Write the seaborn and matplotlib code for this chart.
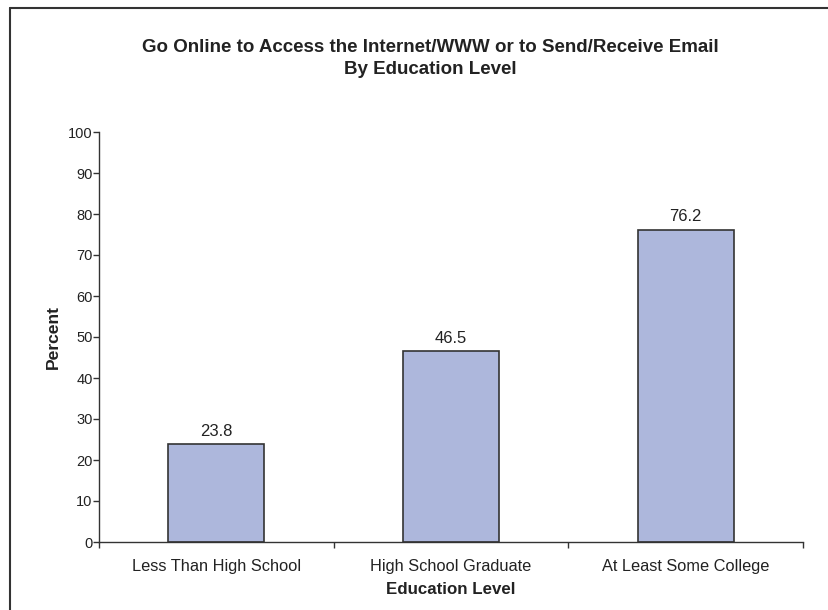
import matplotlib
matplotlib.use("Agg")
import matplotlib.pyplot as plt
from matplotlib.lines import Line2D
from matplotlib.ticker import FixedLocator, MultipleLocator
import pandas as pd
import seaborn as sns

# Share of people who go online, by education level
levels = ["Less Than High School", "High School Graduate", "At Least Some College"]
percent = [23.8, 46.5, 76.2]

title_lines = ["Go Online to Access the Internet/WWW or to Send/Receive Email",
               "By Education Level"]

sns.set_theme(style="white")
plt.rcParams["font.family"] = ["Liberation Sans", "DejaVu Sans"]

df = pd.DataFrame({"level": levels, "pct": percent})

W, H = 829, 610
fig = plt.figure(figsize=(W / 100, H / 100), dpi=100)
fig.patch.set_facecolor("white")

left, right, bottom, top = 99, 803, 542, 132
ax = fig.add_axes([left / W, (H - bottom) / H, (right - left) / W, (bottom - top) / H])
ax.set_facecolor("white")

sns.barplot(data=df, x="level", y="pct", color="#ADB7DC", saturation=1,
            edgecolor="#333333", linewidth=1.2, width=0.41, ax=ax)

ax.bar_label(ax.containers[0], fmt="%.1f", padding=4, fontsize=12, color="#222222")

ax.set_ylim(0, 100)
ax.set_xlim(-0.5, 2.5)
ax.yaxis.set_major_locator(MultipleLocator(10))

# spines: only left and bottom
for side in ["top", "right"]:
    ax.spines[side].set_visible(False)
for side in ["left", "bottom"]:
    ax.spines[side].set_color("#333333")
    ax.spines[side].set_linewidth(1.0)

ax.tick_params(axis="y", which="major", direction="out", length=4, width=1,
               color="#333333", labelsize=10.5, labelcolor="#222222", pad=0.5, left=True)
# category labels without ticks; boundary ticks as minor ticks
ax.tick_params(axis="x", which="major", length=0, labelsize=11.8, labelcolor="#222222", pad=12)
ax.xaxis.set_minor_locator(FixedLocator([-0.5, 0.5, 1.5, 2.5]))
ax.tick_params(axis="x", which="minor", direction="out", length=4, width=1,
               color="#333333", bottom=True)

ax.set_xlabel("Education Level", fontsize=12.2, fontweight="bold", color="#222222", labelpad=6)
ax.set_ylabel("Percent", fontsize=12.6, fontweight="bold", color="#222222", labelpad=5)

title_x = 430 / W
fig.text(title_x, 1 - 48 / H, title_lines[0], ha="center", va="center",
         fontsize=13.5, fontweight="bold", color="#222222")
fig.text(title_x, 1 - 70 / H, title_lines[1], ha="center", va="center",
         fontsize=13.5, fontweight="bold", color="#222222")

# outer frame lines (left and top edge of the chart area)
fx, fy = 10.5 / W, 1 - 7.5 / H
fig.add_artist(Line2D([fx, fx], [0, fy], transform=fig.transFigure, color="#333333", lw=1.5))
fig.add_artist(Line2D([fx, 1], [fy, fy], transform=fig.transFigure, color="#333333", lw=1.5))

fig.savefig("out.png", dpi=100, facecolor="white")
